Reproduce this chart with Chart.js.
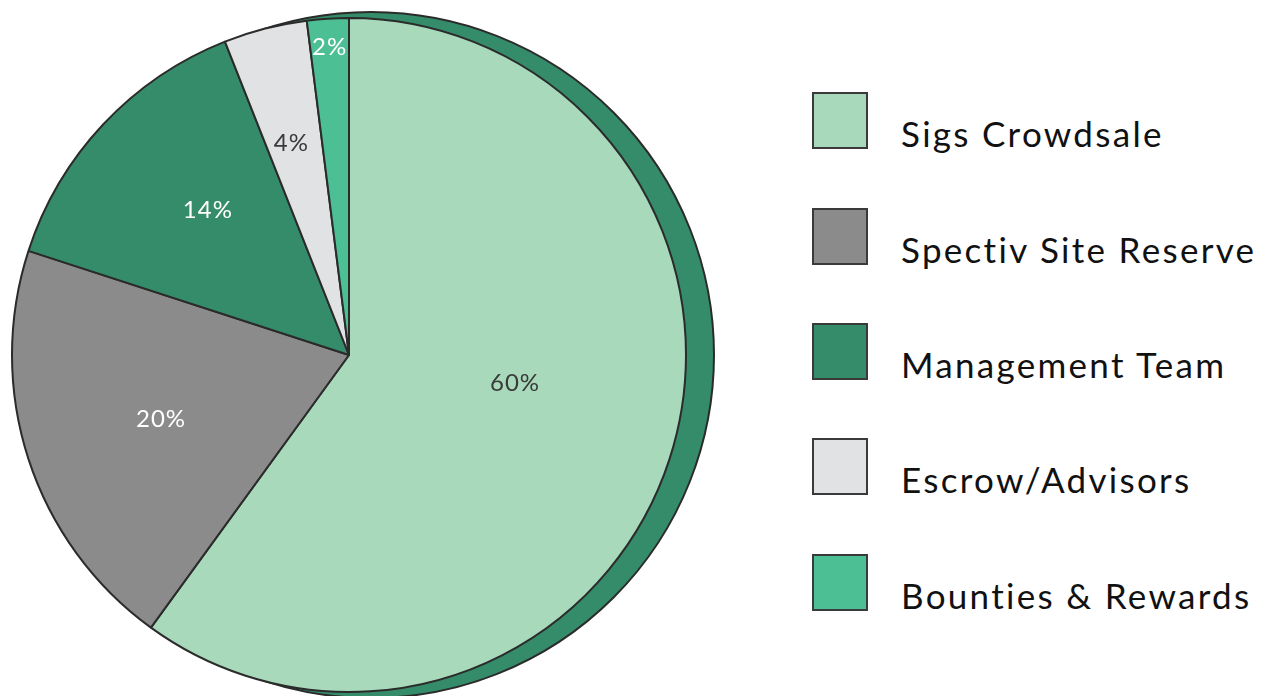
<!DOCTYPE html>
<html>
<head>
<meta charset="utf-8">
<script src="https://cdn.jsdelivr.net/npm/chart.js@4/dist/chart.umd.min.js"></script>
<style>
  html, body { margin: 0; padding: 0; background: #ffffff; }
  body { width: 1270px; height: 696px; position: relative; overflow: hidden; font-family: Lato, "Noto Sans", sans-serif; }
  #wrap { position: absolute; left: 0; top: 0; width: 760px; height: 696px; }
  .lg-box { position: absolute; left: 812px; width: 52px; height: 53px; border: 2px solid #3a3a3a; }
  .lg-text { position: absolute; left: 901px; font-size: 35px; line-height: 35px; color: #111; white-space: nowrap; letter-spacing: 2.3px; }
</style>
</head>
<body>
<div id="wrap"><canvas id="c"></canvas></div>
<div id="legend"></div>
<script>
const categories = ["Sigs Crowdsale", "Spectiv Site Reserve", "Management Team", "Escrow/Advisors", "Bounties & Rewards"];
const shares = [60, 20, 14, 4, 2];
const sliceLabels = ["60%", "20%", "14%", "4%", "2%"];
const sliceColors = ["#a8d9bb", "#8b8b8b", "#358c6a", "#e1e2e4", "#4cbf95"];
const labelColors = ["#3a3a3a", "#ffffff", "#ffffff", "#3a3a3a", "#ffffff"];
const labelAngleFrac = [0.462, 0.486, 0.55, 0.44, 0.5];
const labelRadiusFrac = [0.50, 0.59, 0.60, 0.65, 0.915];

const backDisc = {
  id: 'backDisc',
  beforeDatasetsDraw(chart) {
    const arc = chart.getDatasetMeta(0).data[0];
    if (!arc) return;
    const ctx = chart.ctx;
    ctx.save();
    ctx.beginPath();
    ctx.arc(arc.x + 22, arc.y, arc.outerRadius + 6, 0, Math.PI * 2);
    ctx.fillStyle = "#358c6a";
    ctx.fill();
    ctx.lineWidth = 2;
    ctx.strokeStyle = "#2b2b2b";
    ctx.stroke();
    ctx.restore();
  }
};

const sliceText = {
  id: 'sliceText',
  afterDatasetsDraw(chart) {
    const ctx = chart.ctx;
    const meta = chart.getDatasetMeta(0);
    ctx.save();
    ctx.font = '24px Lato, "Noto Sans", sans-serif';
    if ('letterSpacing' in ctx) ctx.letterSpacing = '1px';
    ctx.textAlign = 'center';
    ctx.textBaseline = 'middle';
    meta.data.forEach((arc, i) => {
      const a = arc.startAngle + (arc.endAngle - arc.startAngle) * labelAngleFrac[i];
      const r = arc.outerRadius * labelRadiusFrac[i];
      ctx.fillStyle = labelColors[i];
      ctx.fillText(sliceLabels[i], arc.x + Math.cos(a) * r, arc.y + Math.sin(a) * r);
    });
    ctx.restore();
  }
};

new Chart(document.getElementById('c'), {
  type: 'pie',
  data: {
    labels: categories,
    datasets: [{
      data: shares,
      backgroundColor: sliceColors,
      borderColor: "#2b2b2b",
      borderWidth: 2
    }]
  },
  options: {
    responsive: true,
    maintainAspectRatio: false,
    animation: false,
    layout: { padding: { left: 11, top: 17, right: 73, bottom: 3 } },
    plugins: { legend: { display: false }, tooltip: { enabled: false } }
  },
  plugins: [backDisc, sliceText]
});

const legend = document.getElementById('legend');
const boxTops = [92, 208, 323, 438, 554];
categories.forEach((name, i) => {
  const b = document.createElement('div');
  b.className = 'lg-box';
  b.style.top = boxTops[i] + 'px';
  b.style.background = sliceColors[i];
  legend.appendChild(b);
  const t = document.createElement('div');
  t.className = 'lg-text';
  t.style.top = (boxTops[i] + 24) + 'px';
  t.textContent = name;
  legend.appendChild(t);
});
</script>
</body>
</html>
